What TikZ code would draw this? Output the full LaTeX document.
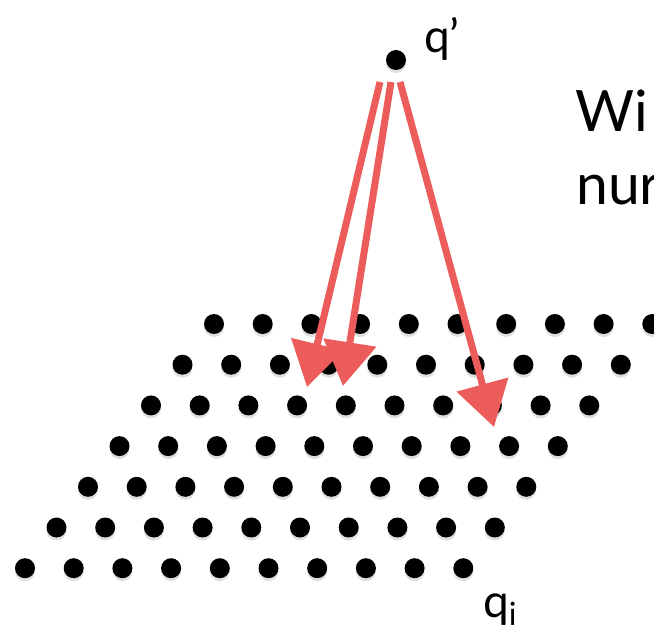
\documentclass[tikz,border=0pt]{standalone}
\usepackage{fontspec}
\setmainfont{Lato}
\usetikzlibrary{arrows.meta,shadows}
\definecolor{sketchred}{RGB}{236,92,90}
\tikzset{
  dot/.style={circle, fill=black, inner sep=0pt, minimum size=20pt,
    drop shadow={opacity=0.25, shadow xshift=0pt, shadow yshift=-3pt}},
  redarrow/.style={sketchred, line width=7pt, -{Triangle[length=44pt,width=52pt]}},
  bigtext/.style={anchor=base west, inner sep=0pt, font=\fontsize{57}{60}\selectfont},
}
\begin{document}
\begin{tikzpicture}[x=1pt,y=-1pt]
\useasboundingbox (0,0) rectangle (654,631);
\clip (0,0) rectangle (654,631);
% lattice of points
\foreach \r in {0,...,6}
  \foreach \c in {0,...,9}
    \node[dot] (d-\r-\c) at ({214-31.5*\r+48.7*\c},{324+40.7*\r}) {};
\node[dot] (qp) at (396,60) {};
% sketched arrows
\coordinate (t1) at (307,387);
\coordinate (t2) at (343,386);
\coordinate (t3) at (494,427);
\draw[redarrow] ([shift={(-16,22)}]qp.center) -- (t1);
\draw[redarrow] ([shift={(-5,22)}]qp.center) -- (t2);
\draw[redarrow] ([shift={(4,22)}]qp.center) -- (t3);
% labels
\node[anchor=base west, inner sep=0pt, font=\fontsize{46}{50}\selectfont] (qlab) at (424,53) {q’};
\node[anchor=base west, inner sep=0pt, font=\fontsize{46}{50}\selectfont] (qilab) at (483,617)
  {q\raisebox{-8pt}{\fontsize{32}{34}\selectfont i}};
\node[bigtext] (wi) at (575,132) {Wi};
\node[bigtext] (nur) at (576,205) {nur};
\end{tikzpicture}
\end{document}
